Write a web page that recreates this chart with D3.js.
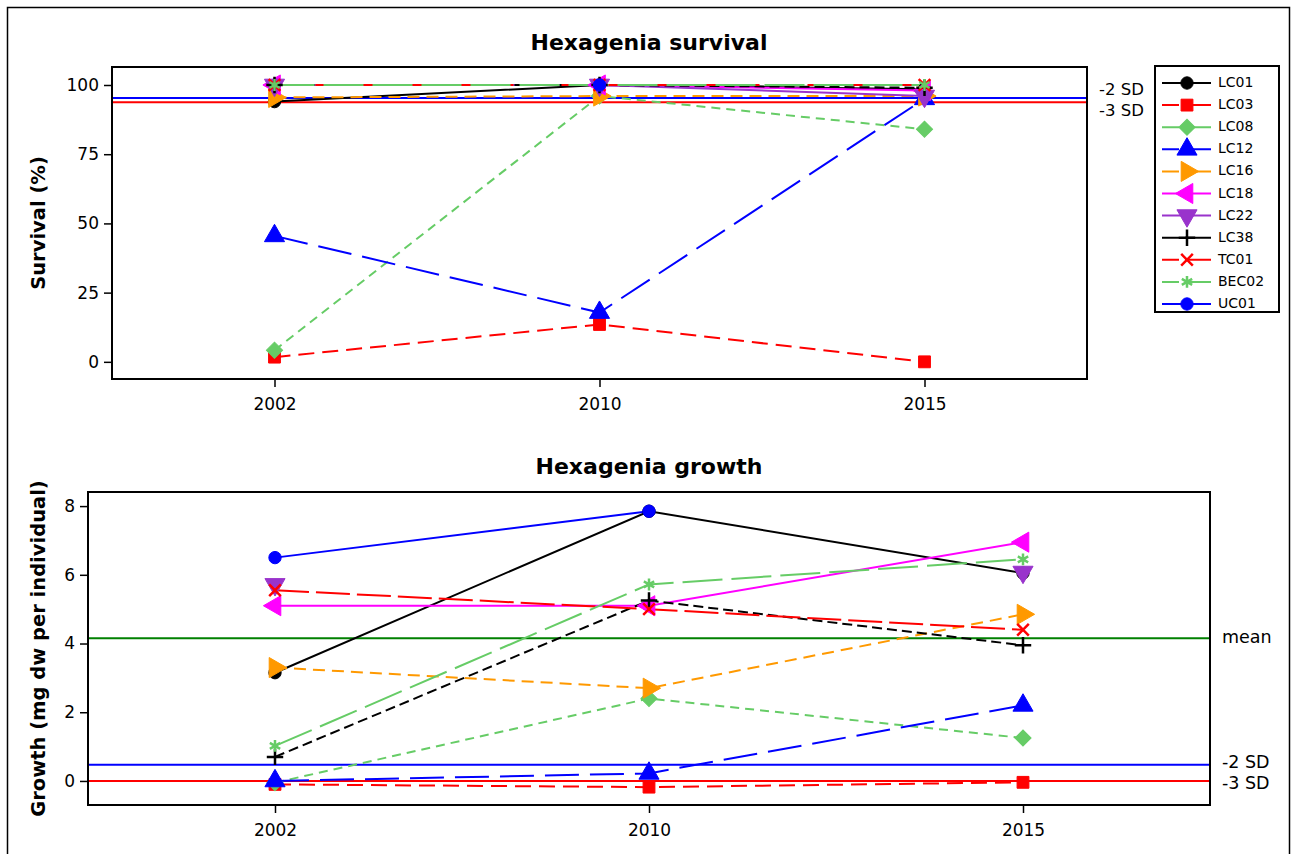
<!DOCTYPE html>
<html>
<head>
<meta charset="utf-8">
<script src="https://cdn.jsdelivr.net/npm/d3@7"></script>
<style>
  body { margin: 0; background: #fff; }
  svg { font-family: "DejaVu Sans", Verdana, sans-serif; }
</style>
</head>
<body>
<svg id="chart" width="1297" height="854"></svg>
<script>
// Sampling years (plotted as evenly spaced categories)
const years = ["2002", "2010", "2015"];

// Site codes
const sites = ["LC01", "LC03", "LC08", "LC12", "LC16", "LC18", "LC22", "LC38", "TC01", "BEC02", "UC01"];

// Survival (%) per site, one value per year (null = not sampled)
const survLC01  = [94, 100, 98.5];
const survLC03  = [1.7, 13.5, 0];
const survLC08  = [4.2, 96, 84];
const survLC12  = [45.5, 17.8, 95];
const survLC16  = [95.5, 96, 96];
const survLC18  = [100, 100, 98];
const survLC22  = [100, 100, 96];
const survLC38  = [100, 100, 99];
const survTC01  = [100, 100, 100];
const survBEC02 = [100, 100, 100];
const survUC01  = [null, 100, null];

// Growth (mg dry weight per individual)
const growLC01  = [3.15, 7.85, 6.05];
const growLC03  = [-0.1, -0.18, -0.04];
const growLC08  = [-0.05, 2.4, 1.25];
const growLC12  = [0.0, 0.22, 2.2];
const growLC16  = [3.3, 2.7, 4.85];
const growLC18  = [5.1, 5.1, 6.95];
const growLC22  = [5.72, null, 6.08];
const growLC38  = [0.7, 5.25, 3.95];
const growTC01  = [5.55, 5.0, 4.4];
const growBEC02 = [1.02, 5.72, 6.45];
const growUC01  = [6.5, 7.85, null];

// Reference levels
const survRefNames  = ["-2 SD", "-3 SD"];
const survRefValues = [95.3, 93.8];
const growRefNames  = ["mean", "-2 SD", "-3 SD"];
const growRefValues = [4.15, 0.47, 0.0];

const survTicks = [0, 25, 50, 75, 100];
const growTicks = [0, 2, 4, 6, 8];

const survival = [survLC01, survLC03, survLC08, survLC12, survLC16, survLC18, survLC22, survLC38, survTC01, survBEC02, survUC01];
const growth   = [growLC01, growLC03, growLC08, growLC12, growLC16, growLC18, growLC22, growLC38, growTC01, growBEC02, growUC01];

// Visual style for each site
const styles = {
  LC01:  { color: "#000000", dash: null,     symbol: d3.symbolCircle,   size: 120, fill: true },
  LC03:  { color: "#ff0000", dash: "16,8",   symbol: d3.symbolSquare,   size: 140, fill: true },
  LC08:  { color: "#66cc66", dash: "9,6",    symbol: d3.symbolSquare,   size: 130, fill: true, rot: 45 },
  LC12:  { color: "#0000ff", dash: "34,11",  symbol: d3.symbolTriangle, size: 175, fill: true, rot: 0 },
  LC16:  { color: "#ff9900", dash: "12,7",   symbol: d3.symbolTriangle, size: 175, fill: true, rot: 90 },
  LC18:  { color: "#ff00ff", dash: null,     symbol: d3.symbolTriangle, size: 175, fill: true, rot: -90 },
  LC22:  { color: "#9933cc", dash: null,     symbol: d3.symbolTriangle, size: 175, fill: true, rot: 180 },
  LC38:  { color: "#000000", dash: "10,5",   symbol: d3.symbolPlus,     size: 90,  fill: false },
  TC01:  { color: "#ff0000", dash: "34,7",   symbol: d3.symbolTimes,    size: 90,  fill: false },
  BEC02: { color: "#66cc66", dash: "40,9",   symbol: d3.symbolAsterisk, size: 100, fill: false },
  UC01:  { color: "#0000ff", dash: null,     symbol: d3.symbolCircle,   size: 120, fill: true }
};

const refColors = { "mean": "#008000", "-2 SD": "#0000ff", "-3 SD": "#ff0000" };

const svg = d3.select("#chart");

// Outer frame
svg.append("rect")
  .attr("x", 7.5).attr("y", 7.5).attr("width", 1282).attr("height", 852)
  .attr("fill", "none").attr("stroke", "#000").attr("stroke-width", 1.5);

function drawPanel(cfg) {
  const { left, right, top, bottom, yDomain, ticks, data, refNames, refValues, title, ylabel, refLabelOffsets, refFont, titleY } = cfg;

  const x = d3.scalePoint().domain(years).range([left, right]).padding(0.5);
  const y = d3.scaleLinear().domain(yDomain).range([bottom, top]);

  const g = svg.append("g");

  // Title
  g.append("text")
    .attr("x", 649).attr("y", titleY)
    .attr("text-anchor", "middle")
    .attr("font-size", 22).attr("font-weight", "bold")
    .text(title);

  // Y axis label
  g.append("text")
    .attr("transform", `translate(45,${(top + bottom) / 2}) rotate(-90)`)
    .attr("text-anchor", "middle")
    .attr("font-size", 19.5).attr("font-weight", "bold")
    .text(ylabel);

  // Clip to plotting area
  const clipId = "clip" + top;
  g.append("clipPath").attr("id", clipId)
    .append("rect").attr("x", left).attr("y", top).attr("width", right - left).attr("height", bottom - top);

  const plot = g.append("g").attr("clip-path", `url(#${clipId})`);

  // Reference lines
  refValues.forEach((v, i) => {
    plot.append("line")
      .attr("x1", left).attr("x2", right)
      .attr("y1", y(v)).attr("y2", y(v))
      .attr("stroke", refColors[refNames[i]]).attr("stroke-width", 2);
    g.append("text")
      .attr("x", right + 12).attr("y", y(v) + refLabelOffsets[i])
      .attr("font-size", refFont).attr("dominant-baseline", "middle")
      .text(refNames[i]);
  });

  // Series lines
  const line = d3.line()
    .defined(d => d.v !== null)
    .x(d => x(d.year))
    .y(d => y(d.v));

  sites.forEach((s, i) => {
    const st = styles[s];
    const pts = years.map((yr, j) => ({ year: yr, v: data[i][j] }));
    plot.append("path")
      .datum(pts)
      .attr("d", line)
      .attr("fill", "none")
      .attr("stroke", st.color)
      .attr("stroke-width", 2)
      .attr("stroke-dasharray", st.dash);
  });

  // Markers
  sites.forEach((s, i) => {
    const st = styles[s];
    const pts = years.map((yr, j) => ({ year: yr, v: data[i][j] })).filter(d => d.v !== null);
    plot.selectAll(null)
      .data(pts)
      .enter().append("path")
      .attr("d", d3.symbol().type(st.symbol).size(st.size))
      .attr("transform", d => `translate(${x(d.year)},${y(d.v)}) rotate(${st.rot || 0})`)
      .attr("fill", st.fill ? st.color : "none")
      .attr("stroke", st.color)
      .attr("stroke-width", st.fill ? 1 : 2.5);
  });

  // Axes
  const yAxis = d3.axisLeft(y).tickValues(ticks).tickSize(8).tickSizeOuter(0).tickPadding(5);
  const ax = g.append("g").attr("transform", `translate(${left},0)`).call(yAxis);
  ax.select(".domain").remove();
  ax.selectAll("text").attr("font-size", 17).attr("font-family", "DejaVu Sans, Verdana, sans-serif");
  ax.selectAll("line").attr("stroke-width", 1.5);

  const xAxis = d3.axisBottom(x).tickSize(8).tickSizeOuter(0).tickPadding(11);
  const bx = g.append("g").attr("transform", `translate(0,${bottom})`).call(xAxis);
  bx.select(".domain").remove();
  bx.selectAll("text").attr("font-size", 17).attr("font-family", "DejaVu Sans, Verdana, sans-serif");
  bx.selectAll("line").attr("stroke-width", 1.5);

  // Plot frame
  g.append("rect")
    .attr("x", left).attr("y", top).attr("width", right - left).attr("height", bottom - top)
    .attr("fill", "none").attr("stroke", "#000").attr("stroke-width", 2);
}

drawPanel({
  left: 112, right: 1087, top: 67, bottom: 379, titleY: 50,
  yDomain: [-6.2, 106.5], ticks: survTicks, data: survival,
  refNames: survRefNames, refValues: survRefValues,
  refLabelOffsets: [-8, 9], refFont: 16.5,
  title: "Hexagenia survival", ylabel: "Survival (%)"
});

drawPanel({
  left: 88, right: 1210, top: 492, bottom: 805, titleY: 474,
  yDomain: [-0.7, 8.41], ticks: growTicks, data: growth,
  refNames: growRefNames, refValues: growRefValues,
  refLabelOffsets: [0, -2, 3], refFont: 17.5,
  title: "Hexagenia growth", ylabel: "Growth (mg dw per individual)"
});

// Legend
const legend = svg.append("g");
const lx = 1155, ly = 66, rowH = 22.1;
legend.append("rect")
  .attr("x", lx).attr("y", ly).attr("width", 124).attr("height", 246)
  .attr("fill", "#fff").attr("stroke", "#000").attr("stroke-width", 2);

sites.forEach((s, i) => {
  const st = styles[s];
  const cy = ly + 17 + i * rowH;
  legend.append("line")
    .attr("x1", lx + 7).attr("x2", lx + 56)
    .attr("y1", cy).attr("y2", cy)
    .attr("stroke", st.color).attr("stroke-width", 2)
    .attr("stroke-dasharray", st.dash ? "17,6,26" : null);
  legend.append("path")
    .attr("d", d3.symbol().type(st.symbol).size(st.size))
    .attr("transform", `translate(${lx + 32},${cy}) rotate(${st.rot || 0})`)
    .attr("fill", st.fill ? st.color : "none")
    .attr("stroke", st.color)
    .attr("stroke-width", st.fill ? 1 : 2.5);
  legend.append("text")
    .attr("x", lx + 63).attr("y", cy)
    .attr("dominant-baseline", "middle")
    .attr("font-size", 14)
    .text(s);
});
</script>
</body>
</html>
